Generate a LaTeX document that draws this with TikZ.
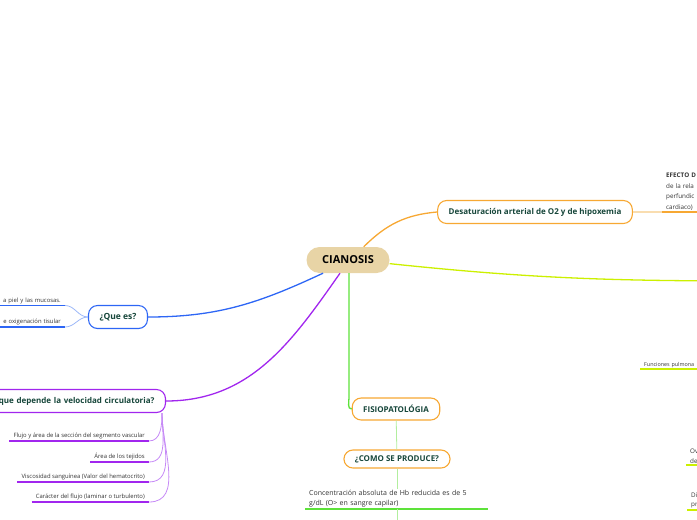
\documentclass[tikz,border=0pt]{standalone}
\usepackage{fontspec}
\setmainfont{Open Sans}
\usetikzlibrary{positioning}
\definecolor{topicink}{HTML}{16463A}
\definecolor{leafink}{HTML}{333333}
\definecolor{rootfill}{HTML}{E8D4A6}
\definecolor{orangeb}{HTML}{F7A833}
\definecolor{orangel}{HTML}{F9DDB0}
\definecolor{limeb}{HTML}{CCF000}
\definecolor{blueb}{HTML}{2D66F5}
\definecolor{bluel}{HTML}{9DB8F8}
\definecolor{purpleb}{HTML}{A126EE}
\definecolor{purplel}{HTML}{C68AF6}
\definecolor{greenb}{HTML}{5DE23A}
\definecolor{greenl}{HTML}{B2EE9E}

\begin{document}
\begin{tikzpicture}[
  x=1pt, y=-1pt,
  root/.style={fill=rootfill, rounded corners=13pt, minimum width=83pt, minimum height=26pt,
               font=\bfseries\fontsize{11}{13}\selectfont, text=black},
  topic/.style={draw, fill=white, line width=1.1pt, rounded corners=9pt, minimum height=23pt,
                inner xsep=11pt, font=\bfseries\fontsize{8}{9}\selectfont, text=topicink},
  leaf/.style={inner xsep=4pt, inner ysep=1.5pt, font=\fontsize{5.9}{7}\selectfont, text=leafink},
  bigleaf/.style={leaf, font=\fontsize{7}{10}\selectfont, align=left},
  branch/.style={line width=1.3pt},
  twig/.style={line width=0.8pt},
  uline/.style={line width=1.5pt},
]
\clip (0,0) rectangle (697,520);

% ============================================================ ROOT
\node[root] (cian) at (348,260) {CIANOSIS};

% ============================================================ DESATURACION
\node[topic, draw=orangeb] (desat) at (535,212) {Desaturación arterial de O2 y de hipoxemia};
\draw[branch, orangeb] (cian.40) to[out=45,in=185] (desat.west);

\node[bigleaf, anchor=south west, text width=70pt, font=\fontsize{6.3}{10.6}\selectfont] (efecto) at (662,212)
  {\textbf{EFECTO D}\\de la rela\\perfundic\\cardiaco)};
\draw[orangel, line width=1.6pt] (desat.east) -- (efecto.south west);
\draw[uline, orangeb] (efecto.south west) -- (efecto.south east);

% ============================================================ RIGHT (off the page)
\coordinate (limeend) at (760,281);
\draw[branch, limeb] (cian.-5) to[out=-6,in=180] (limeend);

\node[leaf, anchor=south west, text width=70pt, font=\fontsize{5.4}{7}\selectfont] (pulm) at (640,369) {Funciones pulmona};
\draw[uline, limeb, line width=1.2pt] (pulm.south west) -- (pulm.south east);

\node[bigleaf, anchor=south west, text width=40pt, font=\fontsize{6.3}{9.5}\selectfont] (oxig) at (686,465) {Ov\\de};
\draw[uline, limeb, line width=1.2pt] (oxig.south west) -- (oxig.south east);
\node[bigleaf, anchor=south west, text width=40pt, font=\fontsize{6.3}{9.5}\selectfont] (difus) at (687,510) {Di\\pr};
\draw[uline, limeb, line width=1.2pt] (difus.south west) -- (difus.south east);

% ============================================================ QUE ES
\node[topic, draw=blueb, font=\bfseries\fontsize{8.5}{10}\selectfont] (quees) at (118,317) {¿Que es?};
\draw[branch, blueb] ([xshift=-25pt]cian.south) to[out=205,in=0] (quees.east);

\node[leaf, anchor=south east, text width=70pt, align=right] (qe1) at (65,305.5) {a piel y las mucosas.};
\node[leaf, anchor=south east, text width=70pt, align=right] (qe2) at (65,327) {e oxigenación tisular};
\draw[uline, blueb] (qe1.south west) -- (qe1.south east);
\draw[uline, blueb] (qe2.south west) -- (qe2.south east);
\draw[twig, bluel] (qe1.south east) to[out=0,in=180] (quees.west);
\draw[twig, bluel] (qe2.south east) to[out=0,in=180] (quees.west);

% ============================================================ VELOCIDAD
\node[topic, draw=purpleb, text width=190pt, align=right, anchor=east] (veloc) at (166,401)
  {que depende la velocidad circulatoria?};
\draw[branch, purpleb] ([xshift=-8pt]cian.south) to[out=235,in=0] (veloc.east);
\coordinate (vtrunk) at ([xshift=-4pt]veloc.south east);

\node[leaf, anchor=south east] (vl1) at (149,441) {Flujo y área de la sección del segmento vascular};
\node[leaf, anchor=south east] (vl2) at (149,462) {Área de los tejidos};
\node[leaf, anchor=south east] (vl3) at (149,482) {Viscosidad sanguínea (Valor del hematocrito)};
\node[leaf, anchor=south east] (vl4) at (149,502) {Carácter del flujo (laminar o turbulento)};
\draw[uline, purpleb] (vl1.south west) -- (vl1.south east);
\draw[uline, purpleb] (vl2.south west) -- (vl2.south east);
\draw[uline, purpleb] (vl3.south west) -- (vl3.south east);
\draw[uline, purpleb] (vl4.south west) -- (vl4.south east);
\draw[twig, purplel] (vtrunk) to[out=-90,in=0] (vl1.south east);
\draw[twig, purplel] (vtrunk) to[out=-90,in=0] (vl2.south east);
\draw[twig, purplel] (vtrunk) to[out=-90,in=0] (vl3.south east);
\draw[twig, purplel] (vtrunk) to[out=-90,in=0] (vl4.south east);

% ============================================================ FISIOPATOLOGIA
\node[topic, draw=orangeb, minimum height=22pt] (fisio) at (396,409) {FISIOPATOLÓGIA};
\draw[branch, greenb] ([xshift=1pt]cian.south) -- ([xshift=1pt]cian.south |- fisio.north)
  to[out=-90,in=180] (fisio.west);

\node[topic, draw=orangeb, minimum height=18pt] (como) at (397,459) {¿COMO SE PRODUCE?};
\draw[twig, greenl] (fisio) -- (como);

\node[bigleaf, anchor=south west, text width=175pt] (conc) at (305,509)
  {Concentración absoluta de Hb reducida es de 5\\g/dL (O> en sangre capilar)};
\draw[twig, greenl] (como.south) -- (como.south |- conc.north);
\draw[uline, greenb] (conc.south west) -- (conc.south east);
\coordinate (concdown) at (397,530);
\draw[twig, greenl] (como.south |- conc.south) -- (concdown);

\end{tikzpicture}
\end{document}
